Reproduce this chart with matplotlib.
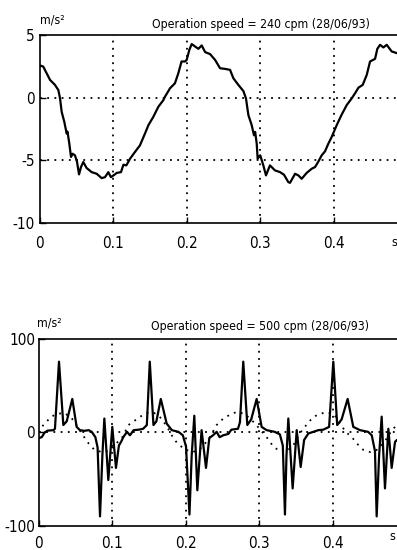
import matplotlib
matplotlib.use('Agg')
import matplotlib.pyplot as plt
import matplotlib.font_manager as fm

names = {f.name for f in fm.fontManager.ttflist}
cond = [f for f in fm.fontManager.ttflist
        if f.name == 'DejaVu Sans' and f.stretch in ('condensed', 'semi-condensed', 600, 700)]
if 'Liberation Sans Narrow' in names:
    fam, stretch, mark = 'Liberation Sans Narrow', 'normal', 'LN'
elif cond:
    fam, stretch, mark = 'DejaVu Sans', 'condensed', 'DC'
else:
    fam, stretch, mark = 'Roboto', 'normal', 'RB'
plt.rcParams['font.family'] = [fam, 'DejaVu Sans']
plt.rcParams['font.stretch'] = stretch
plt.rcParams['axes.unicode_minus'] = False

# --- 240 cpm record (s, m/s^2) ---
t_slow = [0.0, 0.0007, 0.005, 0.0097, 0.0143, 0.021, 0.0256, 0.0279, 0.0301, 0.0337,
          0.0369, 0.038, 0.0405, 0.0428, 0.045, 0.0482, 0.051, 0.0537, 0.0564, 0.0595,
          0.064, 0.0709, 0.0777, 0.0845, 0.089, 0.0935, 0.097, 0.1017, 0.105, 0.1107,
          0.114, 0.118, 0.123, 0.1297, 0.1365, 0.1433, 0.148, 0.1547, 0.1615, 0.1682,
          0.1705, 0.1773, 0.184, 0.1886, 0.193, 0.1977, 0.2, 0.2036, 0.2068, 0.2113,
          0.2158, 0.2204, 0.225, 0.2317, 0.2385, 0.2453, 0.252, 0.2589, 0.2634, 0.2702,
          0.277, 0.2805, 0.2838, 0.2883, 0.2914, 0.293, 0.2951, 0.2964, 0.298, 0.2999,
          0.3041, 0.3077, 0.3131, 0.3199, 0.3268, 0.3322, 0.3381, 0.3404, 0.3472, 0.3517,
          0.3562, 0.363, 0.3698, 0.3744, 0.379, 0.3834, 0.3879, 0.3925, 0.397, 0.4038,
          0.4106, 0.4174, 0.4242, 0.4287, 0.4333, 0.4391, 0.4446, 0.4491, 0.4559, 0.459,
          0.4627, 0.4672, 0.4717, 0.4785, 0.4853, 0.492]
a_slow = [2.5, 2.57, 2.49, 1.95, 1.42, 1.02, 0.61, -0.05, -1.12, -1.93,
          -2.86, -2.7, -3.66, -4.73, -4.47, -4.6, -5.13, -6.12, -5.53, -5.13,
          -5.61, -5.94, -6.07, -6.42, -6.34, -5.94, -6.34, -6.15, -6.0, -5.94,
          -5.35, -5.4, -4.87, -4.33, -3.8, -2.86, -2.19, -1.52, -0.72, -0.2,
          0.08, 0.75, 1.15, 1.95, 2.89, 2.89, 3.02, 3.82, 4.28, 4.09,
          3.9, 4.17, 3.64, 3.48, 3.02, 2.35, 2.3, 2.22, 1.55, 1.02,
          0.53, -0.05, -1.39, -2.19, -3.0, -2.73, -3.66, -4.87, -4.73, -4.6,
          -5.4, -6.2, -5.4, -5.8, -5.94, -6.15, -6.74, -6.79, -6.07, -6.2,
          -6.47, -6.0, -5.67, -5.53, -5.08, -4.6, -4.28, -3.66, -3.13, -2.19,
          -1.34, -0.59, -0.05, 0.35, 0.8, 1.02, 1.82, 2.89, 3.1, 3.9,
          4.22, 4.01, 4.22, 3.69, 3.56, 3.4]

# --- 500 cpm record (s, m/s^2) ---
t_fast = [0.0, 0.004, 0.008, 0.012, 0.02, 0.022, 0.0275, 0.0334, 0.038, 0.0456,
          0.0515, 0.056, 0.062, 0.068, 0.072, 0.077, 0.08, 0.0833, 0.0865, 0.0892,
          0.0946, 0.1, 0.105, 0.109, 0.112, 0.115, 0.12, 0.124, 0.129, 0.136,
          0.142, 0.147, 0.151, 0.156, 0.16, 0.166, 0.174, 0.181, 0.19, 0.196,
          0.2003, 0.205, 0.208, 0.2116, 0.2157, 0.2215, 0.2275, 0.232, 0.237, 0.242,
          0.246, 0.251, 0.258, 0.262, 0.271, 0.2737, 0.2782, 0.2837, 0.289, 0.2964,
          0.3032, 0.31, 0.321, 0.328, 0.332, 0.3349, 0.337, 0.3395, 0.3454, 0.3509,
          0.3563, 0.361, 0.3668, 0.3735, 0.3803, 0.387, 0.395, 0.4007, 0.406, 0.412,
          0.4202, 0.4279, 0.437, 0.448, 0.453, 0.4574, 0.4597, 0.463, 0.4665, 0.471,
          0.4756, 0.4801, 0.4847, 0.4874, 0.492]
a_fast = [-6, -5, 0, 2, 2.5, 4, 76, 8, 12, 36,
          6, 2.5, 1.8, 2.5, 0.7, -5, -16, -90, -25, 15,
          -51, 6, -38, -14, -10, -5, 0.7, -3, 2.5, 3,
          4, 8, 76, 8, 12, 36, 9.6, 2.5, 0.7, -3,
          -15, -88, -25, 18, -62, 2.5, -38, -6, -3, 0.7,
          -5, -3, -1.5, 3, 4, 11, 76, 8, 14, 36,
          6, 2.5, 0.7, -2, -14, -88, -25, 15, -60, 2.5,
          -37, -8, -1, 0.7, 2.5, 3, 6, 76, 8, 14,
          36, 6, 2.5, 0.7, -3, -20, -90, -25, 17, -60,
          4, -38, -10, -8, -10]

# dotted reference curve on the 500 cpm plot
t_ref = [0.0, 0.004, 0.011, 0.017, 0.025, 0.035, 0.045, 0.052, 0.06, 0.068,
         0.075, 0.085, 0.095, 0.105, 0.113, 0.122, 0.131, 0.138, 0.147, 0.157,
         0.167, 0.176, 0.183, 0.188, 0.198, 0.21, 0.222, 0.232, 0.242, 0.251,
         0.26, 0.269, 0.28, 0.29, 0.296, 0.31, 0.319, 0.326, 0.336, 0.346,
         0.356, 0.367, 0.374, 0.383, 0.392, 0.402, 0.41, 0.417, 0.426, 0.433,
         0.442, 0.451, 0.462, 0.472, 0.48, 0.487, 0.495]
a_ref = [0, 6, 12, 17, 20, 21, 15, 7, -3, -12,
         -18, -21, -20, -12, -6, 8, 13, 17, 21, 21,
         15, 4, -6, -11, -18, -21, -16, -6, 8, 15,
         19, 22, 20, 13, 8, -5, -15, -19, -21, -14,
         0, 11, 17, 20, 22, 19, 10, 1, -5, -12,
         -19, -21, -18, -8, 2, 8, 13]

x_ticks = [0, 0.1, 0.2, 0.3, 0.4]
x_labels = ['0', '0.1', '0.2', '0.3', '0.4']

fig = plt.figure(figsize=(3.97, 5.50), dpi=100)
ax1 = fig.add_axes([0.0995, 0.5945, 0.927, 0.3418])
ax2 = fig.add_axes([0.0977, 0.0442, 0.9257, 0.3389])

grid_style = dict(color='black', linestyle=(0, (1, 3)), linewidth=1.3)
tsize = {'LN': 10.5, 'DC': 8.8, 'RB': 8.4}[mark]
ksize = {'LN': 12, 'DC': 11, 'RB': 10.5}[mark]


def style_axes(ax, yticks, xpad, ypad):
    ax.set_xlim(0, 0.5)
    ax.set_xticks(x_ticks)
    ax.set_xticklabels(x_labels)
    ax.set_yticks(yticks)
    ax.tick_params(direction='in', length=4, width=1, labelsize=ksize,
                   top=False, right=False)
    ax.tick_params(axis='x', pad=xpad)
    ax.tick_params(axis='y', pad=ypad)
    for sp in ax.spines.values():
        sp.set_linewidth(1.2)
    for x in x_ticks[1:]:
        ax.axvline(x, **grid_style, zorder=1)


ax1.plot(t_slow, a_slow, color='black', linewidth=1.6, zorder=3)
ax1.set_ylim(-10, 5)
style_axes(ax1, [-10, -5, 0, 5], 9, 3.5)
for y in [-5, 0]:
    ax1.axhline(y, **grid_style, zorder=1)
ax1.text(0.301, 1.058, 'Operation speed = 240 cpm (28/06/93)',
         transform=ax1.get_xaxis_transform(), ha='center', va='center', fontsize=tsize)
ax1.text(0.0, 1.08, 'm/s²', transform=ax1.get_xaxis_transform(),
         ha='left', va='center', fontsize=tsize)
ax1.text(0.4817, -0.069, 's', transform=ax1.get_xaxis_transform(),
         ha='center', va='top', fontsize=9)

ax2.plot(t_ref, a_ref, color='black', linestyle=(0, (1, 3)), linewidth=1.3, zorder=2)
ax2.plot(t_fast, a_fast, color='black', linewidth=1.6, zorder=3)
ax2.set_ylim(-100, 100)
style_axes(ax2, [-100, 0, 100], 7.5, 2.7)
ax2.axhline(0, **grid_style, zorder=1)
ax2.text(0.301, 1.071, 'Operation speed = 500 cpm (28/06/93)',
         transform=ax2.get_xaxis_transform(), ha='center', va='center', fontsize=tsize)
ax2.text(-0.003, 1.09, 'm/s²', transform=ax2.get_xaxis_transform(),
         ha='left', va='center', fontsize=tsize)
ax2.text(0.4817, -0.024, 's', transform=ax2.get_xaxis_transform(),
         ha='center', va='top', fontsize=9)

fig.savefig('out.png', dpi=100)
